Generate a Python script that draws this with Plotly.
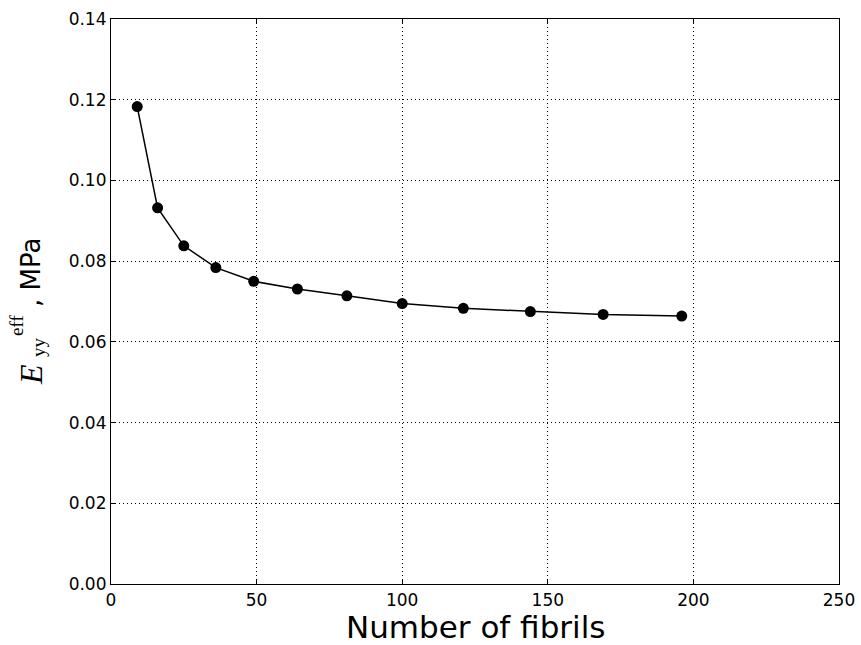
import plotly.graph_objects as go

# Effective stiffness vs. number of fibrils
n_fibrils = [9, 16, 25, 36, 49, 64, 81, 100, 121, 144, 169, 196]
e_eff = [0.1183, 0.0932, 0.0838, 0.0784, 0.0750, 0.0731, 0.0714,
         0.0695, 0.0683, 0.0675, 0.0668, 0.0664]

x_ticks = [0, 50, 100, 150, 200, 250]
y_ticks = [0.00, 0.02, 0.04, 0.06, 0.08, 0.10, 0.12, 0.14]

W, H = 861, 645
ML, MR, MT, MB = 111, 22, 19, 61


def px(x):
    return (x - ML) / (W - ML - MR)


def py(y):
    return (H - MB - y) / (H - MT - MB)


fig = go.Figure()
fig.add_trace(go.Scatter(
    x=n_fibrils, y=e_eff, mode="lines+markers",
    line=dict(color="black", width=1.5),
    marker=dict(color="black", size=11),
    showlegend=False, cliponaxis=False,
))

axis_common = dict(
    showline=True, linecolor="black", linewidth=1.2, mirror="ticks",
    ticks="inside", ticklen=5, tickwidth=1, tickcolor="black",
    showgrid=True, gridcolor="black", gridwidth=1, griddash="1px,3px",
    zeroline=False, automargin=False,
    tickfont=dict(family="DejaVu Sans", size=17, color="black"),
)

fig.update_xaxes(range=[0, 250], tickvals=x_ticks,
                 ticktext=[str(v) for v in x_ticks], **axis_common)
fig.update_yaxes(range=[0, 0.14], tickvals=y_ticks,
                 ticktext=[f"{v:.2f}" for v in y_ticks], **axis_common)

serif = "Liberation Serif"
annotations = [
    dict(text="Number of fibrils", x=px(475), y=py(627),
         font=dict(family="DejaVu Sans", size=31, color="black")),
    dict(text="<i>E</i>", x=px(31), y=py(375), textangle=-90,
         font=dict(family=serif, size=32, color="black")),
    dict(text="yy", x=px(38), y=py(347), textangle=-90,
         font=dict(family=serif, size=19, color="black")),
    dict(text="eff", x=px(16), y=py(326), textangle=-90,
         font=dict(family=serif, size=19, color="black")),
    dict(text=", MPa", x=px(31), y=py(273), textangle=-90,
         font=dict(family="DejaVu Sans", size=26, color="black")),
]
for a in annotations:
    a.update(xref="paper", yref="paper", showarrow=False,
             xanchor="center", yanchor="middle")

fig.update_layout(
    width=W, height=H,
    margin=dict(l=ML, r=MR, t=MT, b=MB, autoexpand=False),
    paper_bgcolor="white", plot_bgcolor="white",
    annotations=annotations,
)

fig.write_html("out.html")
